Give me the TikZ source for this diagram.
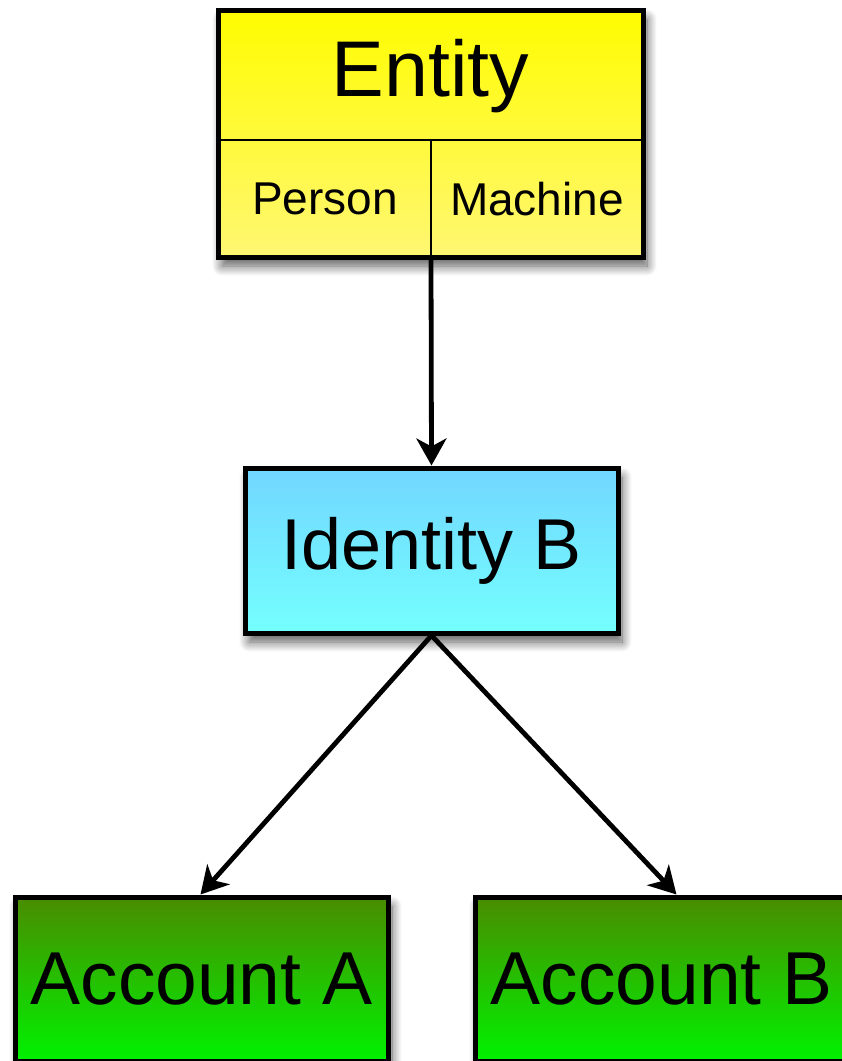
\documentclass[tikz,border=0pt]{standalone}
\usepackage{fontspec}
\setmainfont{Liberation Sans}
\usetikzlibrary{shadows.blur, arrows.meta}

\definecolor{entTop}{RGB}{255,252,0}
\definecolor{entBot}{RGB}{255,247,115}
\definecolor{idTop}{RGB}{114,214,255}
\definecolor{idBot}{RGB}{116,255,255}
\definecolor{acTop}{RGB}{74,140,0}
\definecolor{acBot}{RGB}{0,242,0}

\begin{document}
\begin{tikzpicture}[x=1pt, y=-1pt,
  box/.style={draw=black, line width=5pt, rectangle, inner sep=0pt,
    blur shadow={shadow xshift=4pt, shadow yshift=-9pt,
      shadow blur radius=10pt, shadow blur steps=12, shadow opacity=65}},
  divider/.style={line width=2.4pt},
  conn/.style={line width=4.8pt, -{Stealth[length=27pt, width=30pt, inset=8pt]}},
  label/.style={inner sep=0pt, text=black}
]
\useasboundingbox (0,0) rectangle (842,1061);
\clip (0,0) rectangle (842,1061);

% Entity record with its two sub-kinds
\node[box, minimum width=425pt, minimum height=247pt,
      top color=entTop, bottom color=entBot] (entity) at (430.5,133.5) {};
\draw[divider] (entity.west |- 0,140) -- (entity.east |- 0,140);
\draw[divider] (431,140) -- (431,0 |- entity.south);
\node[label, font=\fontsize{79}{80}\selectfont] (entityTitle) at (430.5,76) {Entity};
\node[label, font=\fontsize{46}{50}\selectfont] (person) at (325,199) {Person};
\node[label, font=\fontsize{46}{50}\selectfont] (machine) at (537,199) {Machine};
\coordinate (entityOut) at (431,0 |- entity.south);

% Identity
\node[box, minimum width=373pt, minimum height=165pt,
      top color=idTop, bottom color=idBot,
      font=\fontsize{72}{76}\selectfont] (identity) at (431.5,550.5) {Identity B};

% Accounts
\node[box, minimum width=373pt, minimum height=164pt,
      top color=acTop, bottom color=acBot,
      font=\fontsize{75}{78}\selectfont] (acctA) at (201.5,979) {Account A};
\node[box, minimum width=373pt, minimum height=164pt,
      top color=acTop, bottom color=acBot,
      font=\fontsize{75}{78}\selectfont] (acctB) at (661.5,979) {Account B};

% Connectors
\draw[conn] (entityOut) -- (identity.north);
\draw[conn] (identity.south) -- ([xshift=-1pt]acctA.north);
\draw[conn] (identity.south) -- ([xshift=15pt]acctB.north);
\end{tikzpicture}
\end{document}
